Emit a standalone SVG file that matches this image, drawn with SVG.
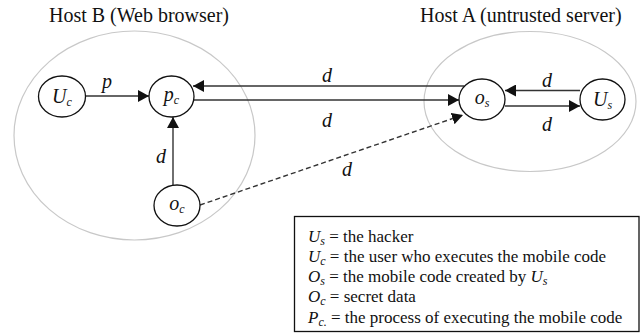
<svg xmlns="http://www.w3.org/2000/svg" width="641" height="333" viewBox="0 0 641 333">
<defs>
<marker id="ah" markerUnits="userSpaceOnUse" markerWidth="12" markerHeight="12" refX="11" refY="6" orient="auto">
<path d="M0,0 L11,6 L0,12 z" fill="#111"/>
</marker>
<style>
.host{fill:none;stroke:#c8c8c8;stroke-width:1.2}
.node{fill:#fff;stroke:#111;stroke-width:1.3}
.edge{fill:none;stroke:#333;stroke-width:1.4}
.dash{stroke-dasharray:5,3}
text{font-family:"Liberation Serif","Times New Roman",Times,"DejaVu Serif",serif;fill:#111}
.title{font-size:20px}
.lbl{font-size:20px;font-style:italic}
.sub{font-size:12px;font-style:italic}
.leg{font-size:17px}
</style>
</defs>
<rect width="641" height="333" fill="#fff"/>
<g id="hostB">
<ellipse class="host" cx="134.5" cy="135.5" rx="120.5" ry="104.5"/>
<text class="title" x="49" y="22">Host B (Web browser)</text>
</g>
<g id="hostA">
<ellipse class="host" cx="530" cy="101.5" rx="106" ry="70"/>
<text class="title" x="420" y="22">Host A (untrusted server)</text>
</g>
<g id="connectors">
<line class="edge" x1="85" y1="96" x2="149" y2="96" marker-end="url(#ah)"/>
<text class="lbl" x="107" y="88" text-anchor="middle">p</text>
<line class="edge" x1="464.5" y1="86" x2="193" y2="86" marker-end="url(#ah)"/>
<text class="lbl" x="327" y="82" text-anchor="middle">d</text>
<line class="edge" x1="194" y1="100" x2="459" y2="100" marker-end="url(#ah)"/>
<text class="lbl" x="327" y="127" text-anchor="middle">d</text>
<line class="edge" x1="173" y1="185" x2="173" y2="117" marker-end="url(#ah)"/>
<text class="lbl" x="161" y="163" text-anchor="middle">d</text>
<line class="edge dash" x1="200" y1="205" x2="463" y2="115" marker-end="url(#ah)"/>
<text class="lbl" x="347" y="176" text-anchor="middle">d</text>
<line class="edge" x1="580" y1="90.5" x2="505" y2="90.5" marker-end="url(#ah)"/>
<text class="lbl" x="547" y="87" text-anchor="middle">d</text>
<line class="edge" x1="505" y1="106" x2="580" y2="106" marker-end="url(#ah)"/>
<text class="lbl" x="547" y="131" text-anchor="middle">d</text>
</g>
<g id="Uc">
<ellipse class="node" cx="62" cy="96.5" rx="23.5" ry="20.5"/>
<text class="lbl" x="62" y="103" text-anchor="middle">U<tspan class="sub" dy="3">c</tspan></text>
</g>
<g id="pc">
<ellipse class="node" cx="171.5" cy="96.5" rx="22.5" ry="20.5"/>
<text class="lbl" x="171.5" y="101" text-anchor="middle">p<tspan class="sub" dy="3">c</tspan></text>
</g>
<g id="oc">
<ellipse class="node" cx="177" cy="205.5" rx="23" ry="20.5"/>
<text class="lbl" x="177" y="210" text-anchor="middle" font-size="18">o<tspan class="sub" dy="3">c</tspan></text>
</g>
<g id="os">
<ellipse class="node" cx="482" cy="99.5" rx="23" ry="20.5"/>
<text class="lbl" x="482" y="104" text-anchor="middle" font-size="18">o<tspan class="sub" dy="3">s</tspan></text>
</g>
<g id="Us">
<ellipse class="node" cx="602.5" cy="99.5" rx="22.5" ry="20.5"/>
<text class="lbl" x="602.5" y="106" text-anchor="middle">U<tspan class="sub" dy="3">s</tspan></text>
</g>
<g id="legend">
<rect x="294.5" y="216.5" width="344.5" height="115" fill="#fff" stroke="#111" stroke-width="1.3"/>
<text class="leg" x="308" y="242"><tspan font-style="italic">U</tspan><tspan class="sub" dy="3">s</tspan><tspan dy="-3"> = the hacker</tspan></text>
<text class="leg" x="308" y="262"><tspan font-style="italic">U</tspan><tspan class="sub" dy="3">c</tspan><tspan dy="-3"> = the user who executes the mobile code</tspan></text>
<text class="leg" x="308" y="282"><tspan font-style="italic">O</tspan><tspan class="sub" dy="3">s</tspan><tspan dy="-3"> = the mobile code created by </tspan><tspan font-style="italic">U</tspan><tspan class="sub" dy="3">s</tspan></text>
<text class="leg" x="308" y="302"><tspan font-style="italic">O</tspan><tspan class="sub" dy="3">c</tspan><tspan dy="-3"> = secret data</tspan></text>
<text class="leg" x="308" y="323"><tspan font-style="italic">P</tspan><tspan class="sub" dy="3">c.</tspan><tspan dy="-3"> = the process of executing the mobile code</tspan></text>
</g>
</svg>
